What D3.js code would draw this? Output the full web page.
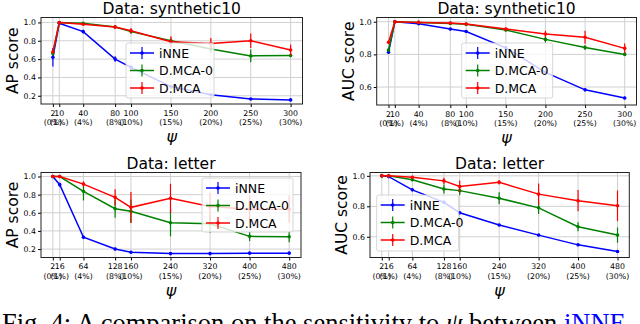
<!DOCTYPE html>
<html>
<head>
<meta charset="utf-8">
<script src="https://cdn.jsdelivr.net/npm/d3@7"></script>
<style>
  body { margin: 0; background: #fff; }
  svg { display: block; font-family: "DejaVu Sans", sans-serif; }
</style>
</head>
<body>
<svg id="chart" width="640" height="324"></svg>
<script>
// x values (psi) and percent labels
const synthX = [2, 10, 40, 80, 100, 150, 200, 250, 300];
const letterX = [2, 16, 64, 128, 160, 240, 320, 400, 480];
const pctLabels = ["(0%)", "(1%)", "(4%)", "(8%)", "(10%)", "(15%)", "(20%)", "(25%)", "(30%)"];
const seriesNames = ["iNNE", "D.MCA-0", "D.MCA"];

// AP, synthetic10
const apSynINNE = [0.62, 0.99, 0.90, 0.60, 0.51, 0.30, 0.21, 0.165, 0.155];
const apSynINNEErr = [0.10, 0.01, 0.02, 0.03, 0.02, 0.02, 0.01, 0.01, 0.01];
const apSynMCA0 = [0.66, 1.0, 0.99, 0.95, 0.90, 0.80, 0.71, 0.635, 0.64];
const apSynMCA0Err = [0.02, 0.005, 0.01, 0.02, 0.02, 0.03, 0.04, 0.07, 0.02];
const apSynMCA = [0.68, 1.0, 0.98, 0.95, 0.91, 0.79, 0.77, 0.80, 0.70];
const apSynMCAErr = [0.02, 0.005, 0.01, 0.02, 0.03, 0.06, 0.06, 0.08, 0.06];

// AUC, synthetic10
const aucSynINNE = [0.813, 1.0, 0.988, 0.955, 0.94, 0.84, 0.69, 0.583, 0.533];
const aucSynINNEErr = [0.01, 0.002, 0.004, 0.006, 0.006, 0.01, 0.01, 0.01, 0.008];
const aucSynMCA0 = [0.827, 1.0, 0.996, 0.99, 0.984, 0.95, 0.892, 0.842, 0.80];
const aucSynMCA0Err = [0.01, 0.002, 0.004, 0.005, 0.008, 0.01, 0.02, 0.015, 0.01];
const aucSynMCA = [0.874, 1.0, 0.996, 0.992, 0.986, 0.955, 0.925, 0.905, 0.837];
const aucSynMCAErr = [0.01, 0.002, 0.004, 0.005, 0.008, 0.01, 0.02, 0.04, 0.03];

// AP, letter
const apLetINNE = [1.0, 0.91, 0.33, 0.20, 0.165, 0.15, 0.15, 0.155, 0.155];
const apLetINNEErr = [0.005, 0.02, 0.02, 0.015, 0.01, 0.01, 0.01, 0.01, 0.01];
const apLetMCA0 = [1.0, 1.0, 0.836, 0.645, 0.616, 0.49, 0.48, 0.34, 0.335];
const apLetMCA0Err = [0.005, 0.005, 0.10, 0.10, 0.13, 0.15, 0.10, 0.05, 0.06];
const apLetMCA = [1.0, 1.0, 0.916, 0.77, 0.66, 0.76, 0.67, 0.64, 0.64];
const apLetMCAErr = [0.005, 0.005, 0.03, 0.09, 0.17, 0.16, 0.15, 0.15, 0.15];

// AUC, letter
const aucLetINNE = [1.0, 0.995, 0.908, 0.826, 0.758, 0.677, 0.611, 0.547, 0.503];
const aucLetINNEErr = [0.003, 0.004, 0.006, 0.01, 0.01, 0.008, 0.006, 0.006, 0.006];
const aucLetMCA0 = [1.0, 1.0, 0.974, 0.914, 0.903, 0.853, 0.79, 0.666, 0.611];
const aucLetMCA0Err = [0.003, 0.003, 0.01, 0.03, 0.03, 0.04, 0.04, 0.03, 0.05];
const aucLetMCA = [1.0, 1.0, 0.991, 0.967, 0.93, 0.958, 0.88, 0.837, 0.804];
const aucLetMCAErr = [0.003, 0.003, 0.01, 0.02, 0.04, 0.015, 0.07, 0.07, 0.1];

const colors = ["#0000ff", "#008000", "#ff0000"];
const svg = d3.select("#chart");

function drawPanel(cfg) {
    const x = d3.scaleLinear().domain(cfg.xDomain).range([cfg.left, cfg.right]);
    const y = d3.scaleLinear().domain(cfg.yDomain).range([cfg.bottom, cfg.top]);
    const g = svg.append("g");

    // grid
    g.selectAll(".gx").data(cfg.xs).enter().append("line")
        .attr("x1", d => x(d)).attr("x2", d => x(d))
        .attr("y1", cfg.top).attr("y2", cfg.bottom)
        .attr("stroke", "#d0d0d0").attr("stroke-width", 1);
    g.selectAll(".gy").data(cfg.yTicks).enter().append("line")
        .attr("y1", d => y(d)).attr("y2", d => y(d))
        .attr("x1", cfg.left).attr("x2", cfg.right)
        .attr("stroke", "#d0d0d0").attr("stroke-width", 1);

    // y axis ticks
    const yAxis = d3.axisLeft(y).tickValues(cfg.yTicks).tickFormat(d3.format(".1f")).tickSize(3).tickPadding(2);
    const ya = g.append("g").attr("transform", `translate(${cfg.left},0)`).call(yAxis);
    ya.select(".domain").remove();
    ya.selectAll("text").attr("font-size", "7.8px").attr("font-family", "DejaVu Sans").attr("fill", "#000");

    // x axis ticks, two-line labels
    const xAxis = d3.axisBottom(x).tickValues(cfg.xs).tickFormat("").tickSize(3);
    const xa = g.append("g").attr("transform", `translate(0,${cfg.bottom})`).call(xAxis);
    xa.select(".domain").remove();
    const lab = g.selectAll(".xl").data(cfg.xs).enter().append("text")
        .attr("x", d => x(d)).attr("y", cfg.bottom + 11.5)
        .attr("text-anchor", "middle").attr("font-size", "7.8px");
    lab.append("tspan").attr("x", d => x(d)).text(d => d);
    lab.append("tspan").attr("x", d => x(d)).attr("dy", 9.5).text((d, i) => pctLabels[i]);

    // series
    cfg.series.forEach((s, k) => {
        const pts = cfg.xs.map((v, i) => ({ x: v, y: s.v[i], e: s.e[i] }));
        g.append("path").datum(pts)
            .attr("d", d3.line().x(d => x(d.x)).y(d => y(d.y)))
            .attr("fill", "none").attr("stroke", colors[k]).attr("stroke-width", 1.5);
        g.selectAll(".eb" + k).data(pts).enter().append("line")
            .attr("x1", d => x(d.x)).attr("x2", d => x(d.x))
            .attr("y1", d => y(d.y - d.e)).attr("y2", d => y(d.y + d.e))
            .attr("stroke", colors[k]).attr("stroke-width", 1.2);
        g.selectAll(".mk" + k).data(pts).enter().append("circle")
            .attr("cx", d => x(d.x)).attr("cy", d => y(d.y)).attr("r", 1.8)
            .attr("fill", colors[k]);
    });

    // frame
    g.append("rect")
        .attr("x", cfg.left).attr("y", cfg.top)
        .attr("width", cfg.right - cfg.left).attr("height", cfg.bottom - cfg.top)
        .attr("fill", "none").attr("stroke", "#222").attr("stroke-width", 1);

    // legend
    const L = cfg.legend;
    const lg = g.append("g").attr("transform", `translate(${L.x},${L.y})`);
    lg.append("rect").attr("width", L.w).attr("height", L.h).attr("rx", 2)
        .attr("fill", "#fff").attr("fill-opacity", 0.8)
        .attr("stroke", "#cccccc").attr("stroke-width", 0.8);
    seriesNames.forEach((name, k) => {
        const cy = 10 + k * 17.5;
        lg.append("line").attr("x1", 4).attr("x2", 28).attr("y1", cy).attr("y2", cy)
            .attr("stroke", colors[k]).attr("stroke-width", 1.5);
        lg.append("line").attr("x1", 16).attr("x2", 16).attr("y1", cy - 6).attr("y2", cy + 6)
            .attr("stroke", colors[k]).attr("stroke-width", 1.2);
        lg.append("circle").attr("cx", 16).attr("cy", cy).attr("r", 1.8).attr("fill", colors[k]);
        lg.append("text").attr("x", 33).attr("y", cy + 4.5).attr("font-size", "12.5px").text(name);
    });

    // title, labels
    g.append("text").attr("x", (cfg.left + cfg.right) / 2).attr("y", cfg.top - 4)
        .attr("text-anchor", "middle").attr("font-size", "15.5px").text(cfg.title);
    g.append("text")
        .attr("transform", `translate(${cfg.ylabelX},${(cfg.top + cfg.bottom) / 2}) rotate(-90)`)
        .attr("text-anchor", "middle").attr("font-size", "15.5px").text(cfg.ylabel);
    g.append("text").attr("x", (cfg.left + cfg.right) / 2).attr("y", cfg.bottom + 38)
        .attr("text-anchor", "middle").attr("font-size", "16px").attr("font-style", "italic")
        .text("\u03C8");
}

drawPanel({
    left: 41, right: 302.5, top: 17.5, bottom: 104,
    xDomain: [-12.9, 314.9], yDomain: [0.11, 1.054], yTicks: [0.2, 0.4, 0.6, 0.8, 1.0],
    xs: synthX, title: "Data: synthetic10", ylabel: "AP score", ylabelX: 18,
    series: [{ v: apSynINNE, e: apSynINNEErr }, { v: apSynMCA0, e: apSynMCA0Err }, { v: apSynMCA, e: apSynMCAErr }],
    legend: { x: 126, y: 43, w: 88, h: 55 }
});
drawPanel({
    left: 376.7, right: 636.5, top: 17.5, bottom: 105,
    xDomain: [-12.9, 314.9], yDomain: [0.49, 1.026], yTicks: [0.6, 0.8, 1.0],
    xs: synthX, title: "Data: synthetic10", ylabel: "AUC score", ylabelX: 354,
    series: [{ v: aucSynINNE, e: aucSynINNEErr }, { v: aucSynMCA0, e: aucSynMCA0Err }, { v: aucSynMCA, e: aucSynMCAErr }],
    legend: { x: 461.7, y: 43, w: 91, h: 55 }
});
drawPanel({
    left: 41, right: 301, top: 172.5, bottom: 257.5,
    xDomain: [-21.9, 503.9], yDomain: [0.107, 1.044], yTicks: [0.2, 0.4, 0.6, 0.8, 1.0],
    xs: letterX, title: "Data: letter", ylabel: "AP score", ylabelX: 18,
    series: [{ v: apLetINNE, e: apLetINNEErr }, { v: apLetMCA0, e: apLetMCA0Err }, { v: apLetMCA, e: apLetMCAErr }],
    legend: { x: 202, y: 178, w: 91, h: 54 }
});
drawPanel({
    left: 370, right: 629.3, top: 172.5, bottom: 257.5,
    xDomain: [-21.9, 503.9], yDomain: [0.464, 1.022], yTicks: [0.6, 0.8, 1.0],
    xs: letterX, title: "Data: letter", ylabel: "AUC score", ylabelX: 347,
    series: [{ v: aucLetINNE, e: aucLetINNEErr }, { v: aucLetMCA0, e: aucLetMCA0Err }, { v: aucLetMCA, e: aucLetMCAErr }],
    legend: { x: 376.7, y: 195, w: 82, h: 56 }
});

// caption (cut off at the bottom edge, as in the source)
const cap = svg.append("text").attr("x", 2).attr("y", 332)
    .attr("font-family", "Liberation Serif, serif").attr("font-size", "26.5px");
cap.append("tspan").text("Fig. 4: A comparison on the sensitivity to ");
cap.append("tspan").attr("font-style", "italic").text("\u03C8");
cap.append("tspan").text(" between ");
cap.append("tspan").attr("fill", "#0000ff").text("iNNE");
</script>
</body>
</html>
